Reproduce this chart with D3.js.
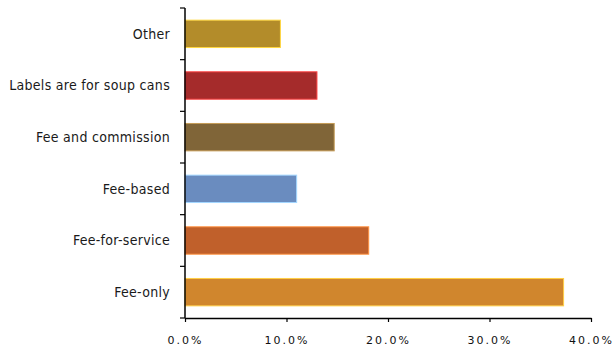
<!DOCTYPE html>
<html>
<head>
<meta charset="utf-8">
<script src="https://cdn.jsdelivr.net/npm/d3@7"></script>
<style>
  body { margin: 0; background: #fff; }
  .cat text { font-family: "DejaVu Sans Condensed", "DejaVu Sans"; font-size: 14px; letter-spacing: 0.3px; fill: #1a1a1a; }
  .xax text { font-family: "DejaVu Sans"; font-size: 11px; fill: #111; letter-spacing: 2px; }
</style>
</head>
<body>
<svg id="chart" width="616" height="347"></svg>
<script>
// categories top to bottom
var categories = ["Other", "Labels are for soup cans", "Fee and commission", "Fee-based", "Fee-for-service", "Fee-only"];
var shares = [0.094, 0.130, 0.147, 0.110, 0.181, 0.373];
var barColors = ["#b38c2a", "#a52b2b", "#806538", "#6a8cbf", "#c0602b", "#d0862d"];
var xTicks = [0, 0.1, 0.2, 0.3, 0.4];

var svg = d3.select("#chart");
var plotLeft = 185, plotTop = 8, plotRight = 591, plotBottom = 318;

var x = d3.scaleLinear().domain([0, 0.4]).range([plotLeft, plotRight]);
var y = d3.scaleBand().domain(categories).range([plotTop, plotBottom]).paddingInner(0.47).paddingOuter(0.235);

// bars
svg.selectAll("rect.bar")
  .data(categories)
  .enter()
  .append("rect")
    .attr("class", "bar")
    .attr("x", x(0))
    .attr("y", function(d){ return y(d) })
    .attr("width", function(d, i){ return x(shares[i]) - x(0) })
    .attr("height", y.bandwidth())
    .style("fill", function(d, i){ return barColors[i] })
    .style("stroke", function(d, i){ return d3.color(barColors[i]).brighter(1.2) })
    .style("stroke-width", 1);

// category axis: ticks between categories
var sep = d3.range(categories.length + 1).map(function(i){ return plotTop + i * (plotBottom - plotTop) / categories.length });
var g = svg.append("g").attr("class", "cat");
g.append("line")
  .attr("x1", plotLeft).attr("x2", plotLeft)
  .attr("y1", plotTop).attr("y2", plotBottom)
  .style("stroke", "#000").style("stroke-width", 1.5);
g.selectAll("line.tk")
  .data(sep)
  .enter()
  .append("line")
    .attr("class", "tk")
    .attr("x1", plotLeft - 5).attr("x2", plotLeft)
    .attr("y1", function(d){ return d }).attr("y2", function(d){ return d })
    .style("stroke", "#000").style("stroke-width", 1.2);
g.selectAll("text")
  .data(categories)
  .enter()
  .append("text")
    .attr("x", 170)
    .attr("y", function(d){ return y(d) + y.bandwidth() / 2 })
    .attr("dy", "0.35em")
    .attr("text-anchor", "end")
    .text(function(d){ return d });

// value axis
var xa = svg.append("g")
  .attr("class", "xax")
  .attr("transform", "translate(0," + plotBottom + ")")
  .call(d3.axisBottom(x).tickValues(xTicks).tickFormat(d3.format(".1%")).tickSize(4).tickSizeOuter(0));
xa.select(".domain").style("stroke", "#000").style("stroke-width", 1.5);
xa.selectAll(".tick line").style("stroke", "#000").style("stroke-width", 1.2);
xa.selectAll(".tick text").attr("y", 18).attr("fill", "#111");
</script>
</body>
</html>
